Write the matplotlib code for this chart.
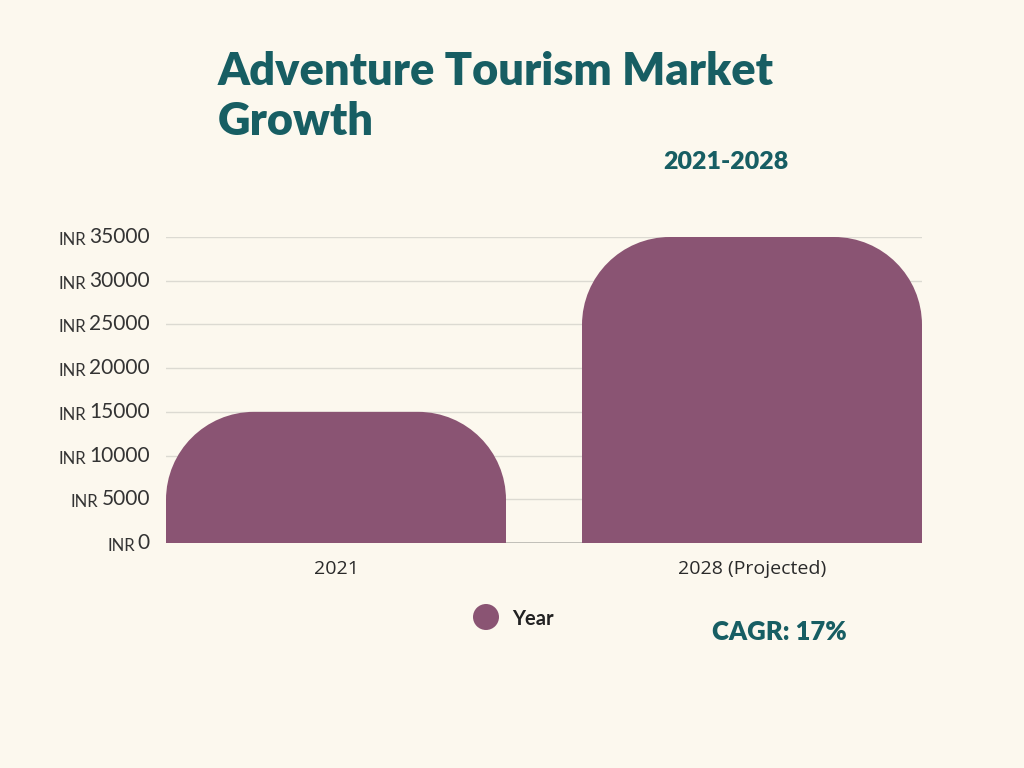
import numpy as np
import matplotlib.pyplot as plt
from matplotlib.path import Path
from matplotlib.patches import PathPatch, Circle

# data
years = ['2021', '2028 (Projected)']
values = [15000, 35000]
yticks = [0, 5000, 10000, 15000, 20000, 25000, 30000, 35000]

BG = '#fcf8ee'
BAR = '#8a5473'
TEAL = '#175e63'
W, H = 1024, 768

fig = plt.figure(figsize=(W / 100, H / 100), dpi=100, facecolor=BG)
ax = fig.add_axes([166 / W, 1 - 543 / H, (922 - 166) / W, (543 - 237) / H])
ax.set_facecolor(BG)

width = 340 / 416
ax.set_xlim(-width / 2, 1 + width / 2)
ax.set_ylim(0, 35000)
for s in ax.spines.values():
    s.set_visible(False)
ax.set_yticks(yticks)
ax.set_yticklabels([])
ax.tick_params(left=False, bottom=False)
ax.grid(axis='y', color='#dcdad2', lw=1)
ax.set_axisbelow(True)
ax.axhline(0, color='#b8b6b0', lw=1.2, zorder=1)

# rounded-top bars, corner radius in pixels
r_px = 88
px_x = (1 + width) / (922 - 166)
px_y = 35000 / (543 - 237)
rx, ry = r_px * px_x, r_px * px_y
k = 0.5523
for i, v in enumerate(values):
    x0, x1 = i - width / 2, i + width / 2
    verts = [(x0, 0), (x0, v - ry),
             (x0, v - ry + k * ry), (x0 + rx - k * rx, v), (x0 + rx, v),
             (x1 - rx, v),
             (x1 - rx + k * rx, v), (x1, v - ry + k * ry), (x1, v - ry),
             (x1, 0), (x0, 0)]
    codes = [Path.MOVETO, Path.LINETO,
             Path.CURVE4, Path.CURVE4, Path.CURVE4,
             Path.LINETO,
             Path.CURVE4, Path.CURVE4, Path.CURVE4,
             Path.LINETO, Path.CLOSEPOLY]
    ax.add_patch(PathPatch(Path(verts, codes), facecolor=BAR, edgecolor='none', zorder=2))

ax.set_xticks([0, 1])
ax.set_xticklabels(years, fontsize=14, color='#2a2a2a', family='Open Sans')
ax.tick_params(axis='x', pad=9)

# y tick labels: small "INR" + larger number
fig.canvas.draw()
rend = fig.canvas.get_renderer()
for t in yticks:
    num = ax.annotate(str(t), xy=(0, t), xycoords=('axes fraction', 'data'),
                      xytext=(-16, 0), textcoords='offset pixels',
                      ha='right', va='center', fontsize=15, color='#333333',
                      family='Lato')
    bb = num.get_window_extent(rend)
    ax.annotate('INR', xy=(0, t), xycoords=('axes fraction', 'data'),
                xytext=(-16 - bb.width - 3, bb.height / 2 - 5), textcoords='offset pixels',
                ha='right', va='top', fontsize=12, color='#333333', family='Lato')

fig.text(218 / W, 1 - 85 / H, 'Adventure Tourism Market', fontsize=32.5, fontweight='heavy',
         color=TEAL, family='Lato', ha='left', va='baseline')
fig.text(218 / W, 1 - 135 / H, 'Growth', fontsize=32.5, fontweight='heavy',
         color=TEAL, family='Lato', ha='left', va='baseline')
fig.text(726 / W, 1 - 162 / H, '2021-2028', fontsize=18, fontweight='heavy',
         color=TEAL, family='Lato', ha='center', va='center')

# legend
fig.patches.append(Circle((4.86, (H - 617) / 100), 0.13, transform=fig.dpi_scale_trans,
                          facecolor=BAR, edgecolor='none'))
fig.text(512 / W, 1 - 619 / H, 'Year', fontsize=14.5, fontweight='bold',
         color='#222222', family='Lato', ha='left', va='center')
fig.text(779 / W, 1 - 632 / H, 'CAGR: 17%', fontsize=18.5, fontweight='heavy',
         color=TEAL, family='Lato', ha='center', va='center')

fig.savefig('out.png', dpi=100, facecolor=BG)
